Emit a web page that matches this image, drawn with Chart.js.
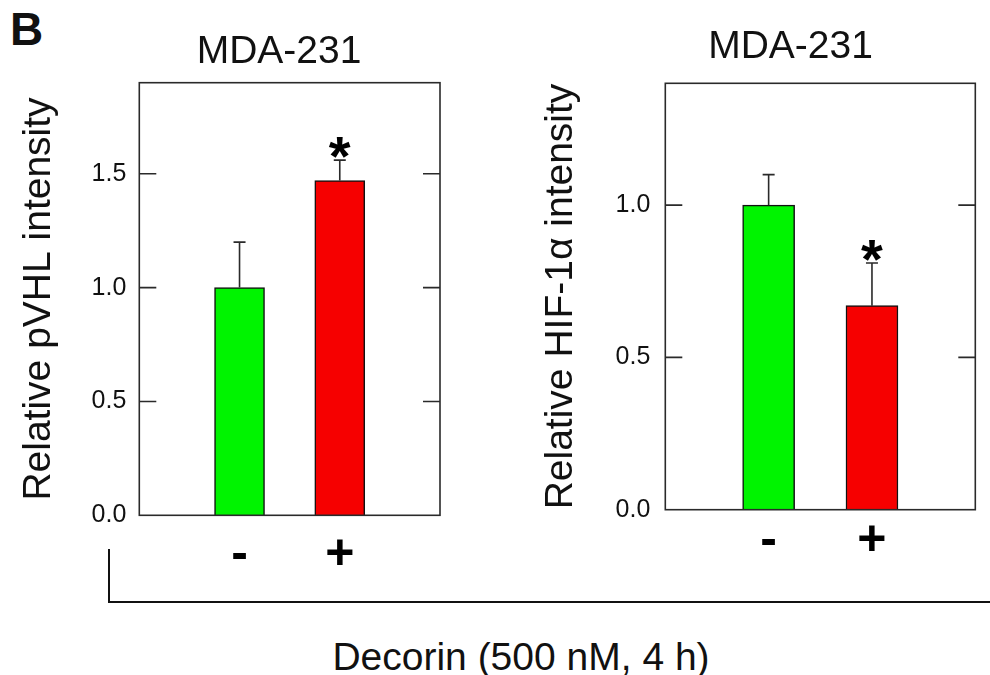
<!DOCTYPE html>
<html>
<head>
<meta charset="utf-8">
<script src="https://cdn.jsdelivr.net/npm/chart.js@4.4.1/dist/chart.umd.min.js"></script>
<style>
  html, body { margin: 0; padding: 0; background: #fff; }
  body {
    position: relative; width: 990px; height: 675px; overflow: hidden;
    font-family: "Liberation Sans", Arial, sans-serif; color: #111;
  }
  canvas { position: absolute; top: 0; }
  #left { left: 0; }
  #right { left: 520px; }
  #letter { position: absolute; left: 10px; top: 6px; font-size: 46px; font-weight: bold; line-height: 1; }
  #bracket {
    position: absolute; left: 108px; top: 549px; width: 890px; height: 52px;
    border-left: 2px solid #111; border-bottom: 2px solid #111;
  }
  #treatment {
    position: absolute; left: 521px; top: 637px; transform: translateX(-50%);
    font-size: 39px; line-height: 1; white-space: nowrap;
  }
</style>
</head>
<body>
<div id="letter">B</div>
<canvas id="left" width="558" height="600"></canvas>
<canvas id="right" width="541" height="600"></canvas>
<div id="bracket"></div>
<div id="treatment">Decorin (500 nM, 4 h)</div>
<script>
// decorin treatment: without / with
const doses = ['-', '+']
const barColors = ['#00f400', '#f60000']

// pVHL panel
const pvhlMean = [1.0, 1.47]
const pvhlErr = [0.2, 0.09]
const pvhlSig = [false, true]

// HIF-1a panel
const hifMean = [1.0, 0.67]
const hifErr = [0.1, 0.14]
const hifSig = [false, true]

Chart.defaults.font.family = '"Liberation Sans", Arial, sans-serif'
Chart.defaults.color = '#111'

// frame, inside ticks, error bars and significance stars
const panelDecor = {
  id: 'panelDecor',
  afterDatasetsDraw(chart) {
    const { ctx, chartArea: a, scales: { y } } = chart
    const ds = chart.data.datasets[0]
    ctx.save()
    ctx.strokeStyle = '#2a2a2a'
    ctx.lineWidth = 1.6
    ctx.strokeRect(a.left, a.top, a.right - a.left, a.bottom - a.top)

    y.ticks.forEach(t => {
      if (t.value <= y.min) return
      const py = y.getPixelForValue(t.value)
      ctx.beginPath()
      ctx.moveTo(a.left, py)
      ctx.lineTo(a.left + 17, py)
      ctx.moveTo(a.right - 17, py)
      ctx.lineTo(a.right, py)
      ctx.stroke()
    })

    chart.getDatasetMeta(0).data.forEach((bar, i) => {
      const top = y.getPixelForValue(ds.data[i].y + ds.errors[i])
      ctx.beginPath()
      ctx.moveTo(bar.x, bar.y)
      ctx.lineTo(bar.x, top)
      ctx.moveTo(bar.x - 6, top)
      ctx.lineTo(bar.x + 6, top)
      ctx.stroke()
      if (ds.sig[i]) {
        ctx.fillStyle = '#000'
        ctx.font = 'bold 56px "Liberation Sans", Arial, sans-serif'
        ctx.textAlign = 'center'
        ctx.textBaseline = 'alphabetic'
        ctx.fillText('*', bar.x, top + 15)
      }
    })
    ctx.restore()
  },
}

function makePanel(canvas, means, errors, sig, yLabel, yMax, g) {
  return new Chart(canvas, {
    type: 'bar',
    data: {
      datasets: [
        {
          data: doses.map((d, i) => ({ x: i, y: means[i] })),
          errors: errors,
          sig: sig,
          backgroundColor: barColors,
          borderColor: '#111',
          borderWidth: 1.5,
          barThickness: g.barThickness,
        },
      ],
    },
    options: {
      responsive: false,
      animation: false,
      events: [],
      plugins: {
        legend: { display: false },
        tooltip: { enabled: false },
        title: {
          display: true,
          text: 'MDA-231',
          color: '#111',
          font: { size: 39, weight: 'normal' },
          padding: g.titlePad,
        },
      },
      scales: {
        x: {
          type: 'linear',
          min: -1,
          max: 2,
          offset: false,
          border: { display: false },
          grid: { display: false, drawTicks: false },
          afterBuildTicks: s => { s.ticks = doses.map((d, i) => ({ value: i })) },
          ticks: {
            callback: v => doses[v],
            padding: g.doseLabelPad,
            color: '#000',
            font: { size: 50, weight: 'bold' },
            maxRotation: 0,
            autoSkip: false,
          },
          afterFit: s => { s.height = g.xHeight },
        },
        y: {
          min: 0,
          max: yMax,
          border: { display: false },
          grid: { display: false, drawTicks: false },
          ticks: {
            stepSize: 0.5,
            includeBounds: false,
            padding: g.tickPad,
            color: '#111',
            font: { size: 25 },
            callback: v => v.toFixed(1),
          },
          title: {
            display: true,
            text: yLabel,
            color: '#111',
            font: { size: 39 },
            padding: { top: g.yTitlePad, bottom: 0 },
          },
          afterFit: s => { s.width = g.yWidth },
        },
        // empty axis that only reserves room on the right
        pad: {
          type: 'linear',
          position: 'right',
          border: { display: false },
          grid: { display: false, drawTicks: false },
          ticks: { display: false },
          afterFit: s => { s.width = g.padRight },
        },
      },
    },
    plugins: [panelDecor],
  })
}

makePanel(document.getElementById('left'), pvhlMean, pvhlErr, pvhlSig,
  'Relative pVHL intensity', 1.9,
  { yWidth: 139.3, padRight: 118, xHeight: 84.7, titlePad: { top: 28.6, bottom: 7.3 },
    yTitlePad: 16, tickPad: 13, barThickness: 50, doseLabelPad: 10 })

makePanel(document.getElementById('right'), hifMean, hifErr, hifSig,
  'Relative HIF-1\u03b1 intensity', 1.4,
  { yWidth: 145.3, padRight: 85.7, xHeight: 90.3, titlePad: { top: 23.8, bottom: 12.7 },
    yTitlePad: 17.6, tickPad: 15, barThickness: 52, doseLabelPad: 2 })
</script>
</body>
</html>
